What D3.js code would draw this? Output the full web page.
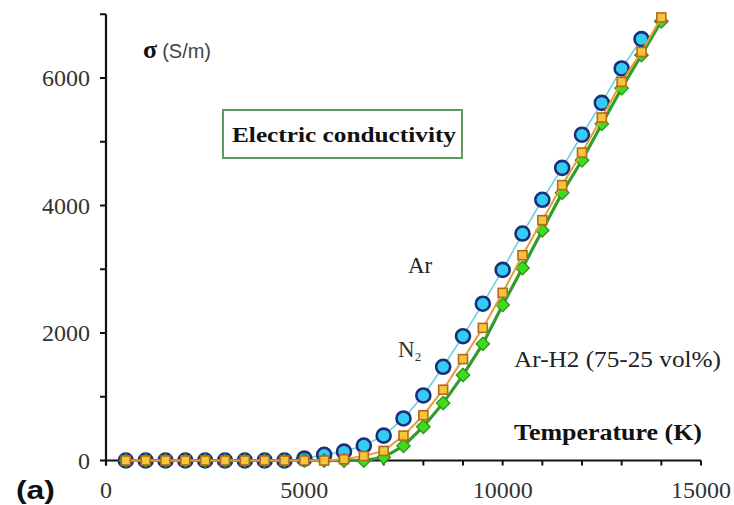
<!DOCTYPE html>
<html><head><meta charset="utf-8">
<script src="https://cdn.jsdelivr.net/npm/d3@7"></script>
<style>body{margin:0;background:#fff}svg{display:block}
.serif{font-family:"Liberation Serif","Times New Roman",Times,serif}
.sans{font-family:"Liberation Sans",Arial,Helvetica,sans-serif}
</style>
</head><body>
<svg id="c" width="734" height="505"></svg>
<script>
const temps = [500,1000,1500,2000,2500,3000,3500,4000,4500,5000,5500,6000,6500,7000,7500,8000,8500,9000,9500,10000,10500,11000,11500,12000,12500,13000,13500,14000];
const arValues = [0,0,0,0,0,0,0,0,0,30,90,140,235,390,660,1020,1470,1950,2460,2990,3560,4090,4590,5110,5610,6150,6610];
const n2Values = [0,0,0,0,0,0,0,0,0,0,0,20,70,150,390,710,1110,1590,2080,2630,3220,3770,4320,4830,5380,5940,6410,6950];
const arH2Values = [0,0,0,0,0,0,0,0,0,0,0,0,0,50,230,530,900,1340,1830,2440,3020,3610,4200,4710,5280,5840,6360,6890];
const xMajorTicks = [0,5000,10000,15000];
const xMinorTicks = d3.range(0,15001,1000);
const yMajorTicks = [0,2000,4000,6000];
const yMinorTicks = [1000,3000,5000,7000];

const svg = d3.select("#c");
const x = d3.scaleLinear().domain([0,15000]).range([106,701]);
const y = d3.scaleLinear().domain([0,7000]).range([460.5,14.25]);

// axes
const yAxis = svg.append("g").attr("transform","translate(106,0)");
yAxis.append("line").attr("x1",0).attr("x2",0).attr("y1",y(7000)).attr("y2",y(0)+5).attr("stroke","#111").attr("stroke-width",2.2);
yAxis.selectAll("line.t").data(yMajorTicks.concat(yMinorTicks)).join("line")
  .attr("class","t").attr("x1",-6).attr("x2",0).attr("y1",d=>y(d)).attr("y2",d=>y(d)).attr("stroke","#111").attr("stroke-width",2);
yAxis.selectAll("text").data(yMajorTicks).join("text").attr("class","serif")
  .attr("x",-16).attr("y",d=>y(d)+8).attr("text-anchor","end")
  .attr("font-size",24).attr("fill","#333").text(d=>d);

const xAxis = svg.append("g").attr("transform",`translate(0,${y(0)})`);
xAxis.append("line").attr("x1",x(0)).attr("x2",x(15000)).attr("y1",0).attr("y2",0).attr("stroke","#111").attr("stroke-width",2.2);
xAxis.selectAll("line.t").data(xMinorTicks).join("line")
  .attr("class","t").attr("x1",d=>x(d)).attr("x2",d=>x(d)).attr("y1",0).attr("y2",5).attr("stroke","#111").attr("stroke-width",2);
xAxis.selectAll("text").data(xMajorTicks).join("text").attr("class","serif")
  .attr("x",d=>x(d)).attr("y",37).attr("text-anchor","middle")
  .attr("font-size",24).attr("fill","#333").text(d=>d);

// series
const series = [
  {name:"Ar", vals:arValues, line:"#6fcfdf", lw:1.6, type:"circle", fill:"#33ccf5", stroke:"#1b2f78", sw:2.6},
  {name:"Ar-H2", vals:arH2Values, line:"#2f9e2a", lw:3.2, type:"diamond", fill:"#3fdc1e", stroke:"#2d8a1c", sw:1.2},
  {name:"N2", vals:n2Values, line:"#e2a03a", lw:2, type:"square", fill:"#f6c53a", stroke:"#b5681c", sw:1.6}
];
const line = d3.line().x(d=>x(d[0])).y(d=>y(d[1]));
series.forEach(s=>{
  const pts = s.vals.map((v,i)=>[temps[i],v]);
  svg.append("path").attr("d",line(pts)).attr("fill","none").attr("stroke",s.line).attr("stroke-width",s.lw);
  const g = svg.append("g");
  if(s.type==="circle"){
    g.selectAll("circle").data(pts).join("circle").attr("cx",d=>x(d[0])).attr("cy",d=>y(d[1])).attr("r",7)
      .attr("fill",s.fill).attr("stroke",s.stroke).attr("stroke-width",s.sw);
  } else if(s.type==="diamond"){
    g.selectAll("path").data(pts).join("path").attr("d",d3.symbol().type(d3.symbolSquare).size(92)())
      .attr("transform",d=>`translate(${x(d[0])},${y(d[1])}) rotate(45)`)
      .attr("fill",s.fill).attr("stroke",s.stroke).attr("stroke-width",s.sw).attr("stroke-linejoin","round");
  } else {
    g.selectAll("rect").data(pts).join("rect").attr("x",d=>x(d[0])-4.5).attr("y",d=>y(d[1])-4.5).attr("width",9).attr("height",9)
      .attr("fill",s.fill).attr("stroke",s.stroke).attr("stroke-width",s.sw);
  }
});

// annotations
const sig = svg.append("text").attr("x",143).attr("y",58).attr("fill","#111");
sig.append("tspan").attr("class","serif").attr("font-weight","bold").attr("font-size",26).text("σ");
sig.append("tspan").attr("class","sans").attr("font-size",20).attr("fill","#444").attr("dx",5).text("(S/m)");

svg.append("rect").attr("x",223).attr("y",110).attr("width",239).attr("height",48).attr("fill","#fff").attr("stroke","#5e9c5e").attr("stroke-width",2);
svg.append("text").attr("class","serif").attr("x",232).attr("y",142).attr("font-weight","bold").attr("font-size",22)
  .attr("textLength",224).attr("lengthAdjust","spacingAndGlyphs").attr("fill","#111").text("Electric conductivity");

svg.append("text").attr("class","serif").attr("x",408).attr("y",273).attr("font-size",23).attr("fill","#222").text("Ar");
const n2 = svg.append("text").attr("class","serif").attr("x",398).attr("y",357).attr("font-size",23).attr("fill","#333");
n2.append("tspan").text("N");
n2.append("tspan").attr("font-size",13).attr("dy",4).text("2");
svg.append("text").attr("class","serif").attr("x",514).attr("y",367).attr("font-size",23)
  .attr("textLength",207).attr("lengthAdjust","spacingAndGlyphs").attr("fill","#222").text("Ar-H2 (75-25 vol%)");
svg.append("text").attr("class","serif").attr("x",514).attr("y",440).attr("font-weight","bold").attr("font-size",23)
  .attr("textLength",188).attr("lengthAdjust","spacingAndGlyphs").attr("fill","#111").text("Temperature (K)");
svg.append("text").attr("class","sans").attr("x",16).attr("y",499).attr("font-weight","bold").attr("font-size",25)
  .attr("textLength",39).attr("lengthAdjust","spacingAndGlyphs").attr("fill","#111").text("(a)");
</script>
</body></html>
